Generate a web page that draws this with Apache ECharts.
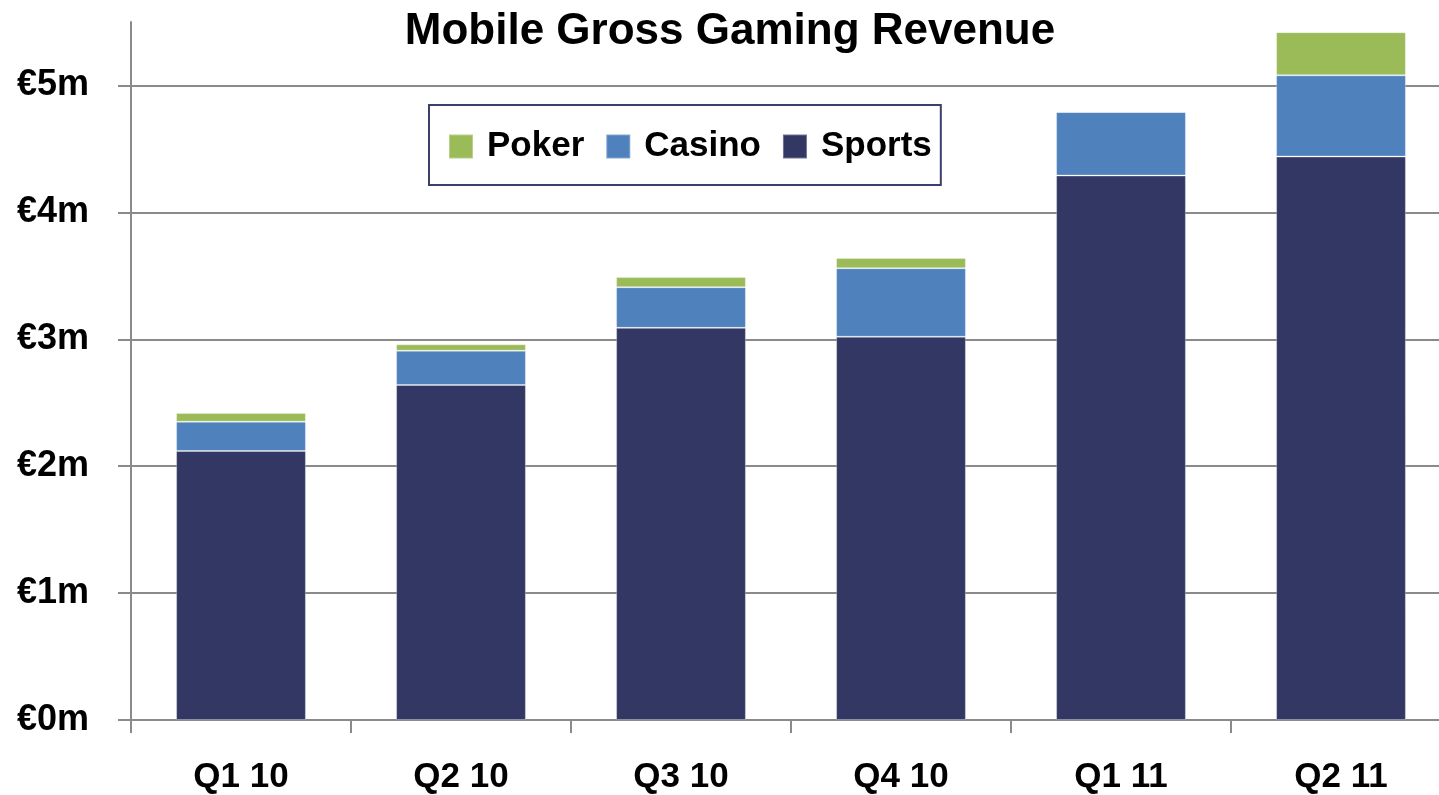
<!DOCTYPE html>
<html>
<head>
<meta charset="utf-8">
<title>Mobile Gross Gaming Revenue</title>
<script src="https://cdn.jsdelivr.net/npm/echarts@6/dist/echarts.min.js"></script>
<style>
  html, body { margin: 0; padding: 0; background: #fff; overflow: hidden; }
  /* the plot runs a little past the right edge of the picture, as in the source */
  #chart { width: 1451px; height: 795px; }
</style>
</head>
<body>
<div id="chart"></div>
<script>
// data (in €m)
var quarters = ['Q1 10', 'Q2 10', 'Q3 10', 'Q4 10', 'Q1 11', 'Q2 11'];
var sports = [2.12, 2.64, 3.09, 3.02, 4.29, 4.44];
var casino = [0.23, 0.27, 0.32, 0.54, 0.50, 0.64];
var poker = [0.07, 0.05, 0.08, 0.08, 0, 0.34];
var yTicks = [0, 1, 2, 3, 4, 5];

var font = '"Liberation Sans", Arial, sans-serif';
var gridGrey = '#8a8a8a';

var mychart = echarts.init(document.getElementById('chart'));

var option = {
    animation: false,
    title: {
        text: 'Mobile Gross Gaming Revenue',
        left: 730,
        textAlign: 'center',
        top: 10,
        padding: 0,
        textStyle: { fontFamily: font, fontWeight: 'bold', fontSize: 44, color: '#000' }
    },
    legend: {
        data: [
            'Poker',
            { name: 'Casino', textStyle: { padding: [0, 10, 0, 9] } },
            'Sports'
        ],
        left: 429,
        top: 105,
        orient: 'horizontal',
        icon: 'rect',
        itemWidth: 24,
        itemHeight: 24,
        itemGap: 21,
        padding: [24, 9, 21, 19],
        borderColor: '#3a3f6e',
        borderWidth: 2,
        selectedMode: false,
        textStyle: { fontFamily: font, fontWeight: 'bold', fontSize: 35, color: '#000', padding: [0, 0, 0, 9] }
    },
    grid: {
        left: 131,
        right: 0,
        top: 22,
        bottom: 74,
        containLabel: false
    },
    xAxis: {
        type: 'category',
        data: quarters,
        axisLine: { lineStyle: { color: gridGrey, width: 2 } },
        axisTick: { show: true, length: 13, lineStyle: { color: gridGrey, width: 2 } },
        axisLabel: { fontFamily: font, fontWeight: 'bold', fontSize: 35, color: '#000', margin: 40 }
    },
    yAxis: {
        type: 'value',
        min: 0,
        max: 5.5,
        interval: 1,
        axisLine: { show: true, lineStyle: { color: gridGrey, width: 2 } },
        axisTick: { show: true, length: 13, lineStyle: { color: gridGrey, width: 2 } },
        splitLine: { show: true, showMaxLine: false, lineStyle: { color: gridGrey, width: 2 } },
        axisLabel: {
            fontFamily: font, fontWeight: 'bold', fontSize: 36, color: '#000', margin: 42,
            showMaxLabel: false,
            formatter: function (v) {
                return yTicks.indexOf(v) >= 0 ? '€' + v + 'm' : '';
            }
        }
    },
    series: [
        {
            name: 'Sports',
            type: 'bar',
            stack: 'total',
            barWidth: '59%',
            data: sports,
            itemStyle: { color: '#333763', borderColor: 'rgba(255,255,255,0.3)', borderWidth: 1 }
        },
        {
            name: 'Casino',
            type: 'bar',
            stack: 'total',
            data: casino,
            itemStyle: { color: '#4f81bd', borderColor: 'rgba(255,255,255,0.3)', borderWidth: 1 }
        },
        {
            name: 'Poker',
            type: 'bar',
            stack: 'total',
            data: poker,
            itemStyle: { color: '#9bbb59', borderColor: 'rgba(255,255,255,0.3)', borderWidth: 1 }
        }
    ]
};

mychart.setOption(option);
</script>
</body>
</html>
